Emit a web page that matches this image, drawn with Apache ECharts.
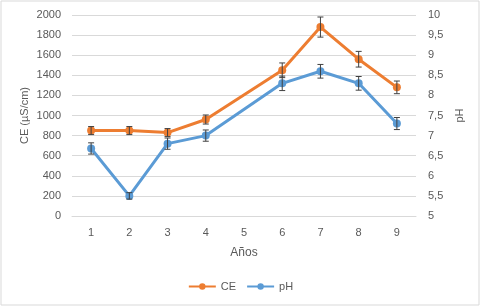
<!DOCTYPE html>
<html>
<head>
<meta charset="utf-8">
<script src="https://cdn.jsdelivr.net/npm/echarts@6/dist/echarts.min.js"></script>
<style>
  html, body { margin: 0; padding: 0; background: #fff; }
  #chart { width: 481px; height: 307px; }
</style>
</head>
<body>
<div id="chart"></div>
<script>
const years = ["1", "2", "3", "4", "5", "6", "7", "8", "9"];
const ceValues = [850, 850, 830, 960, null, 1450, 1880, 1560, 1280];
const ceErrors = [40, 40, 40, 45, null, 73, 100, 78, 63];
const phValues = [6.68, 5.5, 6.8, 7.0, null, 8.3, 8.6, 8.3, 7.3];
const phErrors = [0.14, 0.08, 0.14, 0.14, null, 0.18, 0.17, 0.17, 0.15];

const textColor = "#595959";
const gridColor = "#d9d9d9";
const font = "Liberation Sans";

function errorData(values, errors) {
  const out = [];
  values.forEach((v, i) => {
    if (v !== null) out.push([i, v, errors[i]]);
  });
  return out;
}

function renderErrorBar(params, api) {
  const x = api.value(0);
  const v = api.value(1);
  const e = api.value(2);
  const top = api.coord([x, v + e]);
  const bottom = api.coord([x, v - e]);
  const cap = 3;
  const style = { stroke: "#404040", lineWidth: 1 };
  return {
    type: "group",
    children: [
      { type: "line", shape: { x1: top[0], y1: top[1], x2: bottom[0], y2: bottom[1] }, style },
      { type: "line", shape: { x1: top[0] - cap, y1: top[1], x2: top[0] + cap, y2: top[1] }, style },
      { type: "line", shape: { x1: bottom[0] - cap, y1: bottom[1], x2: bottom[0] + cap, y2: bottom[1] }, style }
    ]
  };
}

const chart = echarts.init(document.getElementById("chart"), null, { renderer: "canvas" });

chart.setOption({
  animation: false,
  backgroundColor: "#ffffff",
  textStyle: { fontFamily: font },
  graphic: [{
    type: "rect",
    shape: { x: 1, y: 1, width: 478, height: 304 },
    style: { fill: "none", stroke: gridColor, lineWidth: 1 },
    silent: true
  }],
  grid: { left: 72, right: 65, top: 15, bottom: 91 },
  legend: {
    bottom: 10,
    left: "center",
    itemWidth: 27,
    itemHeight: 8,
    itemGap: 10,
    textStyle: { color: textColor, fontSize: 11, fontFamily: font },
    data: ["CE", "pH"]
  },
  xAxis: {
    type: "category",
    data: years,
    boundaryGap: true,
    name: "Años",
    nameLocation: "middle",
    nameGap: 31,
    nameTextStyle: { color: textColor, fontSize: 12, fontFamily: font },
    axisLine: { lineStyle: { color: gridColor } },
    axisTick: { show: false },
    axisLabel: { color: textColor, fontSize: 11, margin: 11, fontFamily: font }
  },
  yAxis: [
    {
      type: "value",
      min: 0,
      max: 2000,
      interval: 200,
      name: "CE (µS/cm)",
      nameLocation: "middle",
      nameGap: 42,
      nameMoveOverlap: false,
      nameTextStyle: { color: textColor, fontSize: 11, fontFamily: font },
      axisLine: { show: false },
      axisTick: { show: false },
      axisLabel: {
        color: textColor, fontSize: 11, margin: 11, fontFamily: font,
        formatter: v => String(v)
      },
      splitLine: { lineStyle: { color: gridColor, width: 1 } }
    },
    {
      type: "value",
      min: 5,
      max: 10,
      interval: 0.5,
      name: "pH",
      nameLocation: "middle",
      nameGap: 33,
      nameRotate: 90,
      nameTextStyle: { color: textColor, fontSize: 11, fontFamily: font },
      axisLine: { show: false },
      axisTick: { show: false },
      axisLabel: {
        color: textColor, fontSize: 11, margin: 12, fontFamily: font,
        formatter: v => String(v).replace(".", ",")
      },
      splitLine: { show: false }
    }
  ],
  series: [
    {
      name: "CE",
      type: "line",
      yAxisIndex: 0,
      data: ceValues,
      connectNulls: true,
      symbol: "circle",
      symbolSize: 8,
      lineStyle: { color: "#ED7D31", width: 3 },
      itemStyle: { color: "#ED7D31" },
      z: 3
    },
    {
      name: "pH",
      type: "line",
      yAxisIndex: 1,
      data: phValues,
      connectNulls: true,
      symbol: "circle",
      symbolSize: 8,
      lineStyle: { color: "#5B9BD5", width: 3 },
      itemStyle: { color: "#5B9BD5" },
      z: 3
    },
    {
      type: "custom",
      yAxisIndex: 0,
      renderItem: renderErrorBar,
      data: errorData(ceValues, ceErrors),
      encode: { x: 0, y: 1 },
      silent: true,
      z: 5
    },
    {
      type: "custom",
      yAxisIndex: 1,
      renderItem: renderErrorBar,
      data: errorData(phValues, phErrors),
      encode: { x: 0, y: 1 },
      silent: true,
      z: 5
    }
  ]
});
</script>
</body>
</html>
